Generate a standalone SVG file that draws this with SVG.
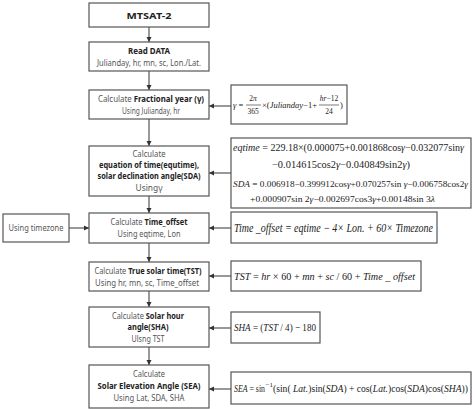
<svg xmlns="http://www.w3.org/2000/svg" width="476" height="409" viewBox="0 0 476 409">
<defs>
<marker id="ah" markerWidth="6" markerHeight="6" refX="5" refY="3" orient="auto" markerUnits="userSpaceOnUse">
<path d="M0,0.5 L5,3 L0,5.5 Z" fill="#333"/>
</marker>
<style>
.box{fill:#fff;stroke:#555;stroke-width:1.2}
.t{font-family:"Noto Sans","Open Sans",sans-serif;font-size:9.5px;fill:#555;text-anchor:middle}
.b{font-weight:bold;fill:#222}
.f{font-family:"Liberation Serif","Times New Roman",serif;fill:#222}
.i{font-style:italic}
.c{stroke:#444;stroke-width:1.1;fill:none;marker-end:url(#ah)}
</style>
</defs>
<rect width="476" height="409" fill="#fff"/>
<g id="connectors">
<line class="c" x1="149" y1="27" x2="149" y2="42"/>
<line class="c" x1="149" y1="71" x2="149" y2="90"/>
<line class="c" x1="149" y1="119" x2="149" y2="146"/>
<line class="c" x1="149" y1="196" x2="149" y2="213"/>
<line class="c" x1="149" y1="243" x2="149" y2="262"/>
<line class="c" x1="149" y1="291" x2="149" y2="307"/>
<line class="c" x1="149" y1="347" x2="149" y2="365"/>
<line class="c" x1="231" y1="106" x2="209" y2="106"/>
<line class="c" x1="231" y1="173" x2="209" y2="173"/>
<line class="c" x1="231" y1="228" x2="209" y2="228"/>
<line class="c" x1="69" y1="228" x2="89" y2="228"/>
<line class="c" x1="231" y1="276" x2="209" y2="276"/>
<line class="c" x1="231" y1="328" x2="209" y2="328"/>
<line class="c" x1="231" y1="389" x2="209" y2="389"/>
</g>
<g id="mtsat">
<rect class="box" x="89" y="3" width="120" height="24"/>
<text class="t b" x="149" y="19" font-size="10.5" textLength="45" lengthAdjust="spacingAndGlyphs">MTSAT-2</text>
</g>
<g id="read">
<rect class="box" x="89" y="42" width="120" height="29"/>
<text class="t b" x="149" y="54" textLength="42" lengthAdjust="spacingAndGlyphs">Read DATA</text>
<text class="t" x="149" y="66" textLength="104" lengthAdjust="spacingAndGlyphs">Julianday, hr, mn, sc, Lon./Lat.</text>
</g>
<g id="frac">
<rect class="box" x="89" y="90" width="120" height="29"/>
<text class="t" x="151" y="102" textLength="106" lengthAdjust="spacingAndGlyphs">Calculate <tspan class="b">Fractional year (γ)</tspan></text>
<text class="t" x="151" y="114" textLength="58" lengthAdjust="spacingAndGlyphs">Using Julianday, hr</text>
</g>
<g id="eq">
<rect class="box" x="89" y="146" width="120" height="50"/>
<text class="t" x="149" y="157" textLength="33" lengthAdjust="spacingAndGlyphs">Calculate</text>
<text class="t b" x="149" y="168" textLength="100" lengthAdjust="spacingAndGlyphs">equation of time(equtime),</text>
<text class="t b" x="149" y="179" textLength="103" lengthAdjust="spacingAndGlyphs">solar declination angle(SDA)</text>
<text class="t" x="149" y="191" textLength="27" lengthAdjust="spacingAndGlyphs">Usingγ</text>
</g>
<g id="timeoffset">
<rect class="box" x="89" y="213" width="120" height="30"/>
<text class="t" x="149" y="225" textLength="77" lengthAdjust="spacingAndGlyphs">Calculate <tspan class="b">Time_offset</tspan></text>
<text class="t" x="149" y="237" textLength="63" lengthAdjust="spacingAndGlyphs">Using eqtime, Lon</text>
</g>
<g id="timezone">
<rect class="box" x="3" y="214" width="66" height="28"/>
<text class="t" x="36" y="231" textLength="55" lengthAdjust="spacingAndGlyphs">Using timezone</text>
</g>
<g id="tst">
<rect class="box" x="89" y="262" width="120" height="29"/>
<text class="t" x="148" y="274" textLength="107" lengthAdjust="spacingAndGlyphs">Calculate <tspan class="b">True solar  time(TST)</tspan></text>
<text class="t" x="147" y="286" textLength="104" lengthAdjust="spacingAndGlyphs">Using hr, mn, sc, Time_offset</text>
</g>
<g id="sha">
<rect class="box" x="89" y="307" width="120" height="40"/>
<text class="t" x="148" y="319" textLength="72" lengthAdjust="spacingAndGlyphs">Calculate <tspan class="b">Solar hour</tspan></text>
<text class="t b" x="148" y="330" textLength="41" lengthAdjust="spacingAndGlyphs">angle(SHA)</text>
<text class="t" x="148" y="342" textLength="33" lengthAdjust="spacingAndGlyphs">Ulsng TST</text>
</g>
<g id="sea">
<rect class="box" x="89" y="365" width="120" height="43"/>
<text class="t" x="149" y="377" textLength="32" lengthAdjust="spacingAndGlyphs">Calculate</text>
<text class="t b" x="149" y="389" textLength="103" lengthAdjust="spacingAndGlyphs">Solar Elevation Angle (SEA)</text>
<text class="t" x="149" y="401" textLength="71" lengthAdjust="spacingAndGlyphs">Using Lat, SDA, SHA</text>
</g>
<g id="f-gamma">
<rect class="box" x="231" y="85" width="116" height="39"/>
<text class="f" font-size="8.5" x="233" y="108"><tspan class="i">γ</tspan> =</text>
<text class="f" font-size="7.5" x="253" y="101" text-anchor="middle">2<tspan class="i">π</tspan></text>
<line x1="246" y1="105" x2="261" y2="105" stroke="#222" stroke-width="0.6"/>
<text class="f" font-size="7.5" x="253" y="114" text-anchor="middle">365</text>
<text class="f" font-size="8.5" x="262" y="108">×(<tspan class="i">Julianday</tspan>−1+</text>
<text class="f" font-size="7.5" x="329" y="101" text-anchor="middle"><tspan class="i">hr</tspan>−12</text>
<line x1="319" y1="105" x2="339" y2="105" stroke="#222" stroke-width="0.6"/>
<text class="f" font-size="7.5" x="329" y="114" text-anchor="middle">24</text>
<text class="f" font-size="8.5" x="340" y="108">)</text>
</g>
<g id="f-eq">
<rect class="box" x="231" y="138" width="240" height="70"/>
<text class="f" font-size="9.5" x="233" y="151" textLength="231" lengthAdjust="spacingAndGlyphs"><tspan class="i">eqtime</tspan> = 229.18×(0.000075+0.001868cos<tspan class="i">γ</tspan>−0.032077sin<tspan class="i">γ</tspan></text>
<text class="f" font-size="9.5" x="272" y="168" textLength="138" lengthAdjust="spacingAndGlyphs">−0.014615cos2<tspan class="i">γ</tspan>−0.040849sin2<tspan class="i">γ</tspan>)</text>
<text class="f" font-size="9" x="233" y="187" textLength="235" lengthAdjust="spacingAndGlyphs"><tspan class="i">SDA</tspan> = 0.006918−0.399912cos<tspan class="i">γ</tspan>+0.070257sin <tspan class="i">γ</tspan>−0.006758cos2<tspan class="i">γ</tspan></text>
<text class="f" font-size="9" x="250" y="202" textLength="185" lengthAdjust="spacingAndGlyphs">+0.000907sin 2<tspan class="i">γ</tspan>−0.002697cos3<tspan class="i">γ</tspan>+0.00148sin 3<tspan class="i">λ</tspan></text>
</g>
<g id="f-offset">
<rect class="box" x="231" y="212" width="206" height="31"/>
<text class="f i" font-size="12" x="234" y="232" textLength="199" lengthAdjust="spacingAndGlyphs">Time _offset = eqtime − 4× Lon. + 60× Timezone</text>
</g>
<g id="f-tst">
<rect class="box" x="231" y="261" width="190" height="30"/>
<text class="f" font-size="11" x="234" y="280" textLength="181" lengthAdjust="spacingAndGlyphs"><tspan class="i">TST</tspan>  = <tspan class="i">hr</tspan> × 60 + <tspan class="i">mn</tspan> + <tspan class="i">sc</tspan> / 60 + <tspan class="i">Time _ offset</tspan></text>
</g>
<g id="f-sha">
<rect class="box" x="231" y="312" width="89" height="31"/>
<text class="f" font-size="11" x="234" y="331" textLength="82" lengthAdjust="spacingAndGlyphs"><tspan class="i">SHA</tspan> = (<tspan class="i">TST</tspan> / 4) − 180</text>
</g>
<g id="f-sea">
<rect class="box" x="231" y="372" width="240" height="32"/>
<text class="f" font-size="10.5" x="234" y="392" textLength="31" lengthAdjust="spacingAndGlyphs"><tspan class="i">SEA</tspan> = sin</text>
<text class="f" font-size="7" x="265.5" y="387">−1</text>
<text class="f" font-size="10.5" x="273" y="392" textLength="195" lengthAdjust="spacingAndGlyphs">(sin( <tspan class="i">Lat.</tspan>)sin(<tspan class="i">SDA</tspan>) + cos(<tspan class="i">Lat.</tspan>)cos(<tspan class="i">SDA</tspan>)cos(<tspan class="i">SHA</tspan>))</text>
</g>
</svg>
